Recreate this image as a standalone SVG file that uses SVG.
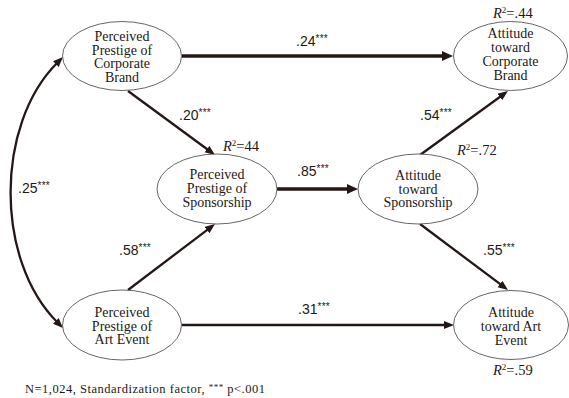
<svg xmlns="http://www.w3.org/2000/svg" width="569" height="398" viewBox="0 0 569 398">
<style>
.node ellipse{fill:#fff;stroke:#555;stroke-width:0.9}
.node text{font-family:"Liberation Serif","Times New Roman",serif;font-size:14px;fill:#231815;text-anchor:middle}
.conn path{fill:none;stroke:#231815;stroke-width:2.3}
.conn path.thick{stroke-width:3.6}
.coef{font-family:"Liberation Sans",Arial,sans-serif;font-size:14px;fill:#231815}
.coef .st{font-size:10px;letter-spacing:0.3px}
.r2{font-family:"Liberation Serif","Times New Roman",serif;font-size:14.5px;fill:#231815}
.r2 .sup{font-size:9px}
.note{font-family:"Liberation Serif","Times New Roman",serif;font-size:12.5px;fill:#231815}
</style>
<defs>
<marker id="ab" markerUnits="userSpaceOnUse" markerWidth="12" markerHeight="11" refX="3" refY="5" orient="auto-start-reverse"><path d="M0,0 L11,5 L0,10 z" fill="#231815"/></marker>
<marker id="as" markerUnits="userSpaceOnUse" markerWidth="11" markerHeight="9" refX="2" refY="4" orient="auto-start-reverse"><path d="M0,0 L10,4 L0,8 z" fill="#231815"/></marker>
</defs>
<rect width="569" height="398" fill="#fff"/>
<g id="connectors" class="conn">
<path class="thick" d="M182,56 L445,56" marker-end="url(#ab)"/>
<path d="M128,91 L208.6,150.3" marker-end="url(#as)"/>
<path class="thick" d="M277,189 L350,189" marker-end="url(#ab)"/>
<path d="M420,155 L501.5,95.7" marker-end="url(#as)"/>
<path d="M128,290 L208.6,228.8" marker-end="url(#as)"/>
<path d="M420,224 L501.6,285.2" marker-end="url(#as)"/>
<path d="M182,325 L446,325" marker-end="url(#as)"/>
<path d="M57.3,62.7 C-5,125 -5,260 57.3,322.3" marker-start="url(#as)" marker-end="url(#as)"/>
</g>
<g id="ppcb" class="node">
<ellipse cx="122" cy="56" rx="59.5" ry="34.5"/>
<text x="122" y="40.5">Perceived</text>
<text x="122" y="54.5">Prestige of</text>
<text x="122" y="68">Corporate</text>
<text x="122" y="82">Brand</text>
</g>
<g id="pps" class="node">
<ellipse cx="217" cy="189" rx="60" ry="35"/>
<text x="217" y="179">Perceived</text>
<text x="217" y="193">Prestige of</text>
<text x="217" y="207">Sponsorship</text>
</g>
<g id="ppae" class="node">
<ellipse cx="122" cy="325" rx="59.5" ry="35"/>
<text x="122" y="317">Perceived</text>
<text x="122" y="330.5">Prestige of</text>
<text x="122" y="344">Art Event</text>
</g>
<g id="atcb" class="node">
<ellipse cx="510.5" cy="56" rx="57" ry="34.5"/>
<text x="510.5" y="38">Attitude</text>
<text x="510.5" y="52">toward</text>
<text x="510.5" y="66">Corporate</text>
<text x="510.5" y="80">Brand</text>
</g>
<g id="ats" class="node">
<ellipse cx="418" cy="189" rx="60" ry="35"/>
<text x="418" y="180">Attitude</text>
<text x="418" y="193.5">toward</text>
<text x="418" y="207">Sponsorship</text>
</g>
<g id="atae" class="node">
<ellipse cx="511" cy="325" rx="57.5" ry="34.5"/>
<text x="511" y="317">Attitude</text>
<text x="511" y="331">toward Art</text>
<text x="511" y="345">Event</text>
</g>
<g id="labels">
<text class="coef" x="296" y="46">.24<tspan class="st" dy="-4">***</tspan></text>
<text class="coef" x="179" y="120">.20<tspan class="st" dy="-4">***</tspan></text>
<text class="coef" x="18" y="193">.25<tspan class="st" dy="-4">***</tspan></text>
<text class="coef" x="297" y="176">.85<tspan class="st" dy="-4">***</tspan></text>
<text class="coef" x="420" y="120">.54<tspan class="st" dy="-4">***</tspan></text>
<text class="coef" x="119" y="255">.58<tspan class="st" dy="-4">***</tspan></text>
<text class="coef" x="483" y="255">.55<tspan class="st" dy="-4">***</tspan></text>
<text class="coef" x="298" y="314">.31<tspan class="st" dy="-4">***</tspan></text>
<text class="r2" x="223" y="151"><tspan font-style="italic">R</tspan><tspan class="sup" dy="-5">2</tspan><tspan dy="5">=44</tspan></text>
<text class="r2" x="457" y="155"><tspan font-style="italic">R</tspan><tspan class="sup" dy="-5">2</tspan><tspan dy="5">=.72</tspan></text>
<text class="r2" x="493" y="18"><tspan font-style="italic">R</tspan><tspan class="sup" dy="-5">2</tspan><tspan dy="5">=.44</tspan></text>
<text class="r2" x="493" y="375"><tspan font-style="italic">R</tspan><tspan class="sup" dy="-5">2</tspan><tspan dy="5">=.59</tspan></text>
<text class="note" x="25" y="393" textLength="240" lengthAdjust="spacing">N=1,024, Standardization factor, <tspan font-size="9" dy="-3">***</tspan><tspan dy="3"> p&lt;.001</tspan></text>
</g>
</svg>
